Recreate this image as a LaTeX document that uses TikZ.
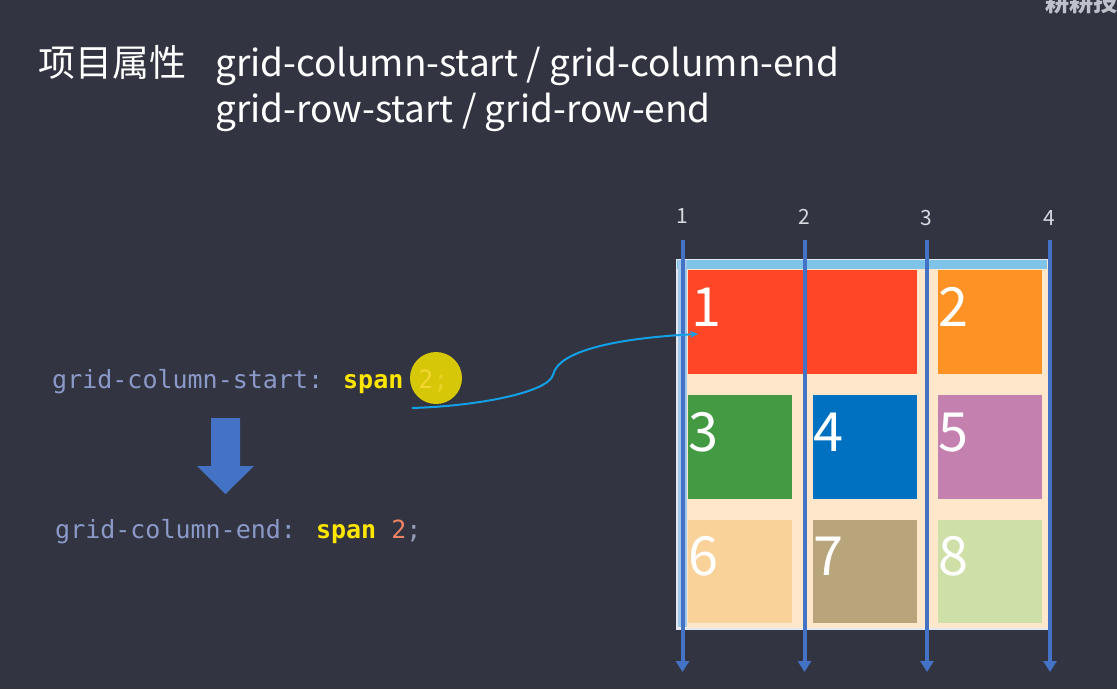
\documentclass[tikz,border=0pt]{standalone}
\usepackage{fontspec}
\setmainfont{Noto Sans CJK SC}
\newfontfamily\codefont{DejaVu Sans Mono}
\usetikzlibrary{arrows.meta}

\definecolor{bg}{RGB}{50,53,65}
\definecolor{gridline}{RGB}{68,114,196}
\definecolor{halo}{RGB}{160,200,235}
\definecolor{band}{RGB}{127,196,232}
\definecolor{peach}{RGB}{255,231,204}
\definecolor{edge}{RGB}{225,232,240}
\definecolor{cA}{RGB}{255,70,39}
\definecolor{cB}{RGB}{255,146,36}
\definecolor{cC}{RGB}{68,154,66}
\definecolor{cD}{RGB}{0,112,192}
\definecolor{cE}{RGB}{196,128,174}
\definecolor{cF}{RGB}{249,210,154}
\definecolor{cG}{RGB}{185,165,123}
\definecolor{cH}{RGB}{207,223,168}
\definecolor{link}{RGB}{20,160,230}
\definecolor{prop}{RGB}{138,153,200}
\definecolor{kw}{RGB}{255,230,0}
\definecolor{numc}{RGB}{236,130,100}
\definecolor{punc}{RGB}{150,158,185}
\definecolor{hilite}{RGB}{214,199,8}
\definecolor{hinum}{RGB}{244,214,50}
\definecolor{hipunc}{RGB}{232,210,40}
\definecolor{labelgray}{RGB}{215,218,225}

\tikzset{
  cellbox/.style={draw=none, anchor=north west, inner sep=0pt, minimum height=104pt},
  cellnum/.style={anchor=base west, inner sep=0pt, text=white, font=\fontsize{54}{54}\selectfont},
  gline/.style={gridline, line width=4pt, -{Triangle[width=13pt,length=11pt]}},
  glabel/.style={text=labelgray, inner sep=0pt, font=\fontsize{21}{21}\selectfont},
  titletext/.style={anchor=base west, inner sep=0pt, text=white, font=\fontsize{37}{37}\selectfont},
  codeline/.style={anchor=base west, inner sep=0pt, font=\codefont\fontsize{25}{25}\selectfont},
}

\begin{document}
\begin{tikzpicture}[x=1pt, y=-1pt]
  % page and background
  \useasboundingbox (0,0) rectangle (1117,689);
  \fill[bg] (0,0) rectangle (1117,689);

  % channel mark, cut by the page edge
  \node[anchor=west, inner sep=0pt, text=labelgray!85!bg, font=\bfseries\fontsize{24}{24}\selectfont] (mark) at (1045,2) {耕耕技};

  % heading
  \node[titletext] (head) at (38,76) {项目属性};
  \node[titletext] (headA) at (215,76) {grid-column-start / grid-column-end};
  \node[titletext] (headB) at (215,122) {grid-row-start / grid-row-end};

  % code, with the pointer highlight behind the value
  \node[circle, fill=hilite, minimum size=52pt, inner sep=0pt] (spot) at (436,378) {};
  \node[codeline] (codeA) at (52,388) {\textcolor{prop}{grid-column-start:} \textcolor{kw}{\bfseries span} \textcolor{hinum}{2}\textcolor{hipunc}{;}};
  \node[codeline] (codeB) at (55,538) {\textcolor{prop}{grid-column-end:} \textcolor{kw}{\bfseries span} \textcolor{numc}{2}\textcolor{punc}{;}};

  % block arrow between the two declarations
  \fill[gridline] (211,418) -- (240,418) -- (240,466) -- (254,466) -- (225.5,494)
    -- (197,466) -- (211,466) -- cycle;

  % grid container
  \node[draw=edge, line width=1.5pt, fill=peach, anchor=north west, inner sep=0pt,
        minimum width=372pt, minimum height=369pt] (box) at (676,259) {};
  \fill[band] (676.75,259.75) rectangle (1047.25,269);

  % items
  \node[cellbox, fill=cA, minimum width=229pt] (i1) at (688,270) {};
  \node[cellbox, fill=cB, minimum width=104pt] (i2) at (938,270) {};
  \node[cellbox, fill=cC, minimum width=104pt] (i3) at (688,395) {};
  \node[cellbox, fill=cD, minimum width=104pt] (i4) at (813,395) {};
  \node[cellbox, fill=cE, minimum width=104pt] (i5) at (938,395) {};
  \node[cellbox, fill=cF, minimum width=104pt, minimum height=103pt] (i6) at (688,520) {};
  \node[cellbox, fill=cG, minimum width=104pt, minimum height=103pt] (i7) at (813,520) {};
  \node[cellbox, fill=cH, minimum width=104pt, minimum height=103pt] (i8) at (938,520) {};

  \node[cellnum] (n1) at (691,326) {1};
  \node[cellnum] (n2) at (938,326) {2};
  \node[cellnum] (n3) at (688,451) {3};
  \node[cellnum] (n4) at (813,451) {4};
  \node[cellnum] (n5) at (938,451) {5};
  \node[cellnum] (n6) at (688,575) {6};
  \node[cellnum] (n7) at (813,575) {7};
  \node[cellnum] (n8) at (938,575) {8};

  % grid lines with their numbers
  \coordinate (g1t) at (682.5,240); \coordinate (g1b) at (682.5,672);
  \coordinate (g2t) at (804.5,240); \coordinate (g2b) at (804.5,672);
  \coordinate (g3t) at (927,240);   \coordinate (g3b) at (927,672);
  \coordinate (g4t) at (1050,240);  \coordinate (g4b) at (1050,672);

  \draw[halo, line width=9pt] (682.5,260) -- (682.5,627);
  \draw[gline] (g1t) -- (g1b);
  \draw[gline] (g2t) -- (g2b);
  \draw[gline] (g3t) -- (g3b);
  \draw[gline] (g4t) -- (g4b);

  \node[glabel] (l1) at (682,216) {1};
  \node[glabel] (l2) at (804,217) {2};
  \node[glabel] (l3) at (926,218) {3};
  \node[glabel] (l4) at (1049,218) {4};

  % connector from the declaration to item 1
  \coordinate (cstart) at (412,408);
  \coordinate (cend) at (698,334);
  \draw[link, line width=2pt, -{Stealth[length=8pt,width=7pt]}]
    (cstart) .. controls (480,406) and (548,392) .. (553,375)
    .. controls (558,350) and (620,338) .. (cend);
\end{tikzpicture}
\end{document}
